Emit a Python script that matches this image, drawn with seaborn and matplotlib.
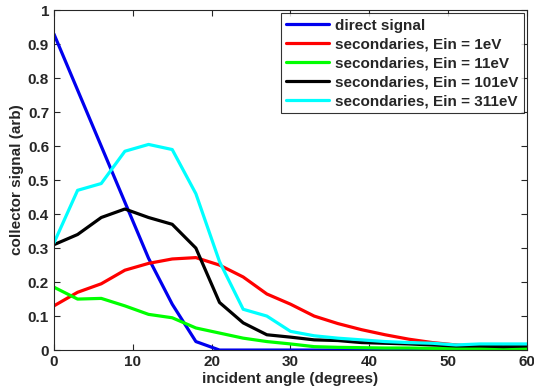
import numpy as np
import pandas as pd
import matplotlib
matplotlib.use("Agg")
import matplotlib.pyplot as plt
import seaborn as sns

angle = list(range(0, 61, 3))

direct = [0.93, 0.765, 0.60, 0.435, 0.27, 0.135, 0.025, 0.0, 0.0, 0.0, 0.0,
          0.0, 0.0, 0.0, 0.0, 0.0, 0.0, 0.0, 0.0, 0.0, 0.0]
ein1 = [0.13, 0.17, 0.195, 0.235, 0.255, 0.268, 0.272, 0.25, 0.215, 0.165, 0.135,
        0.10, 0.078, 0.06, 0.045, 0.032, 0.022, 0.015, 0.01, 0.008, 0.005]
ein11 = [0.185, 0.15, 0.152, 0.13, 0.105, 0.095, 0.065, 0.05, 0.035, 0.025, 0.018,
         0.01, 0.008, 0.007, 0.006, 0.006, 0.005, 0.005, 0.005, 0.005, 0.005]
ein101 = [0.31, 0.34, 0.39, 0.415, 0.39, 0.37, 0.30, 0.14, 0.08, 0.045, 0.038,
          0.03, 0.028, 0.022, 0.02, 0.018, 0.015, 0.012, 0.012, 0.01, 0.012]
ein311 = [0.315, 0.47, 0.49, 0.585, 0.605, 0.59, 0.46, 0.26, 0.12, 0.10, 0.055,
          0.042, 0.035, 0.03, 0.025, 0.022, 0.02, 0.015, 0.018, 0.018, 0.018]

labels = ["direct signal", "secondaries, Ein = 1eV", "secondaries, Ein = 11eV",
          "secondaries, Ein = 101eV", "secondaries, Ein = 311eV"]
colors = ["#0000ee", "#ff0000", "#00ff00", "#000000", "#00ffff"]

rows = []
for lab, vals in zip(labels, [direct, ein1, ein11, ein101, ein311]):
    for a, v in zip(angle, vals):
        rows.append({"angle": a, "signal": v, "series": lab})
df = pd.DataFrame(rows)

sns.set_style("ticks")
plt.rcParams["font.family"] = ["Liberation Sans", "DejaVu Sans"]
plt.rcParams["font.weight"] = "bold"

fig = plt.figure(figsize=(5.34, 3.92), dpi=100)
ax = fig.add_axes([0.101, 0.107, 0.886, 0.867])
sns.lineplot(data=df, x="angle", y="signal", hue="series", hue_order=labels,
             palette=colors, linewidth=2.3, ax=ax)

ax.set_xlim(0, 60)
ax.set_ylim(0, 1)
ax.set_xticks(range(0, 61, 10))
ax.set_yticks(np.arange(0, 1.01, 0.1))
ax.set_yticklabels(["0", "0.1", "0.2", "0.3", "0.4", "0.5", "0.6", "0.7", "0.8", "0.9", "1"])
ax.tick_params(direction="in", top=True, right=True, labelsize=11, length=4, width=0.8)
for lbl in ax.get_xticklabels() + ax.get_yticklabels():
    lbl.set_fontweight("bold")
for sp in ax.spines.values():
    sp.set_linewidth(0.8)
ax.set_xlabel("incident angle (degrees)", fontsize=11, fontweight="bold", labelpad=2)
ax.set_ylabel("collector signal (arb)", fontsize=11, fontweight="bold", labelpad=3)

leg = ax.legend(loc="upper right", fontsize=11, frameon=True, fancybox=False,
                edgecolor="black", borderaxespad=0.2, handlelength=2.8,
                labelspacing=0.32, borderpad=0.35, handletextpad=0.4)
leg.get_frame().set_linewidth(0.8)
for t in leg.get_texts():
    t.set_fontweight("bold")
for h in leg.get_lines():
    h.set_linewidth(2.3)

fig.savefig("out.png", dpi=100)
